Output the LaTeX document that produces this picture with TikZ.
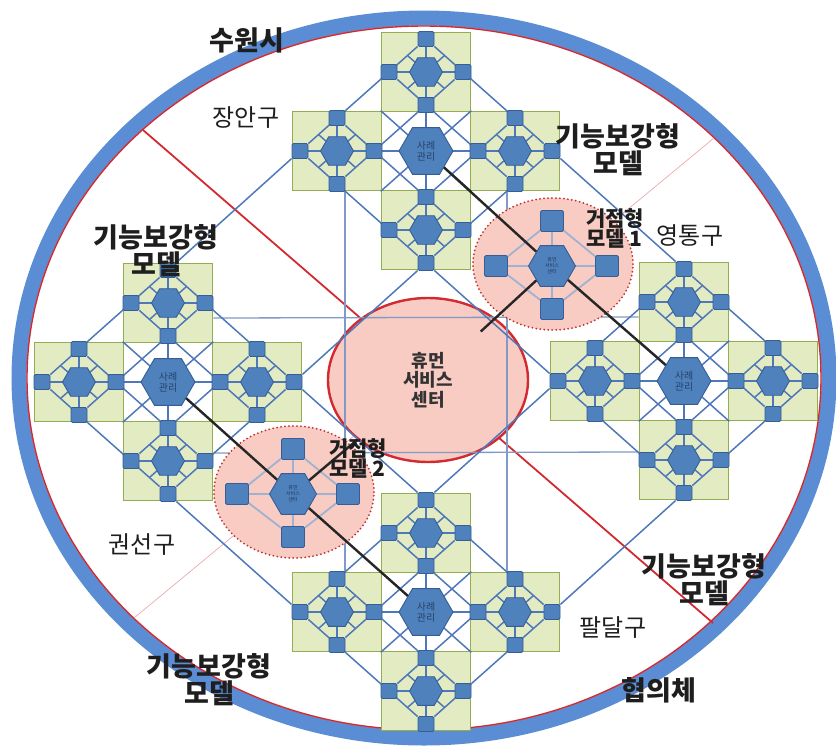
\documentclass[tikz,border=0pt]{standalone}
\usepackage{fontspec}
\setmainfont{Noto Sans CJK KR}
\usetikzlibrary{
  shapes.geometric, % 육각형, 타원 노드
  calc              % 좌표 계산
}
\definecolor{ringblue}{HTML}{5A8DD3}
\definecolor{ringred}{HTML}{D22A30}
\definecolor{cellfill}{HTML}{E3EBC2}
\definecolor{celledge}{HTML}{94AD50}
\definecolor{nodeblue}{HTML}{4F81BD}
\definecolor{nodeedge}{HTML}{365D95}
\definecolor{linkblue}{HTML}{4F78BA}
\definecolor{gridblue}{HTML}{8099C6}
\definecolor{hubpink}{HTML}{F8CBC3}
\definecolor{hubdot}{HTML}{C0302F}
\definecolor{hubline}{HTML}{9FB2D2}
\definecolor{textdark}{HTML}{1E1E1E}

\pgfdeclarelayer{back}
\pgfdeclarelayer{cells}
\pgfdeclarelayer{links}
\pgfdeclarelayer{hubs}
\pgfdeclarelayer{front}
\pgfsetlayers{back,cells,links,hubs,main,front}

\tikzset{
  cellbox/.style={
    draw=celledge, fill=cellfill, line width=1.6pt,
    minimum width=89pt, minimum height=79pt, inner sep=0pt
  },
  centerbox/.style={cellbox, fill=white},
  sqnode/.style={
    draw=nodeedge, fill=nodeblue, line width=0.8pt, rounded corners=1.5pt,
    minimum width=16pt, minimum height=15pt, inner sep=0pt
  },
  cellhex/.style={
    regular polygon, regular polygon sides=6,
    draw=nodeedge, fill=nodeblue, line width=0.9pt,
    minimum size=33pt, inner sep=0pt
  },
  casehex/.style={
    cellhex, minimum size=54pt, align=center,
    font=\fontsize{10}{11}\selectfont, text=nodeedge!70!black
  },
  hubhex/.style={
    cellhex, minimum size=47pt, align=center,
    font=\fontsize{5}{6}\selectfont, text=nodeedge!60!black
  },
  hubsq/.style={sqnode, minimum width=23pt, minimum height=21pt},
  linkline/.style={draw=linkblue, line width=1.5pt},
  gridline/.style={draw=gridblue, line width=1.3pt},
  hubwire/.style={draw=hubline, line width=1.8pt},
  tieline/.style={draw=black!85, line width=2.4pt},
  hsc/.style={
    ellipse, draw=ringred, fill=hubpink, line width=2.4pt,
    minimum width=200pt, minimum height=164pt, align=center,
    font=\bfseries\fontsize{18}{19.5}\selectfont, text=black!80
  },
  hubring/.style={
    draw=hubdot, fill=hubpink, line width=2pt,
    dash pattern=on 0pt off 4pt, line cap=round
  },
  boldlabel/.style={
    font=\bfseries\fontsize{27}{27}\selectfont, text=textdark, align=center
  },
  hublabel/.style={
    font=\bfseries\fontsize{21}{20}\selectfont, text=textdark, align=left
  },
  district/.style={font=\fontsize{24}{24}\selectfont, text=textdark}
}

% 기능보강형 모델 한 묶음: #1 이름, (#2,#3) 가운데 칸
\newcommand{\modelcluster}[3]{%
  \begin{scope}[shift={(#2,#3)}]
    \begin{pgfonlayer}{cells}
      \node[centerbox] (#1-c-box) at (0,0) {};
      \foreach \d/\u/\v in {n/0/-79, s/0/79, w/-89/0, e/89/0}
        \node[cellbox] (#1-\d-box) at (\u,\v) {};
    \end{pgfonlayer}
    \node[casehex] (#1-h) at (0,0) {사례\\관리};
    \foreach \d/\u/\v in {n/0/-79, s/0/79, w/-89/0, e/89/0}{
      \node[cellhex] (#1-\d-h) at (\u,\v) {};
      \node[sqnode] (#1-\d-t) at (\u,\v-33) {};
      \node[sqnode] (#1-\d-b) at (\u,\v+33) {};
      \node[sqnode] (#1-\d-l) at (\u-37,\v) {};
      \node[sqnode] (#1-\d-r) at (\u+37,\v) {};
    }
  \end{scope}
  \begin{pgfonlayer}{links}
    % 칸마다 십자, 마름모 안쪽 대각선
    \foreach \d in {n,s,w,e}{
      \draw[linkline] (#1-\d-t) -- (#1-\d-b)  (#1-\d-l) -- (#1-\d-r);
      \draw[linkline] ($(#1-\d-t)!0.5!(#1-\d-l)$) -- (#1-\d-h)
                      ($(#1-\d-t)!0.5!(#1-\d-r)$) -- (#1-\d-h)
                      ($(#1-\d-b)!0.5!(#1-\d-l)$) -- (#1-\d-h)
                      ($(#1-\d-b)!0.5!(#1-\d-r)$) -- (#1-\d-h);
    }
    \draw[linkline] (#1-c-box.north west) -- (#1-c-box.south east)
                    (#1-c-box.north east) -- (#1-c-box.south west);
    % 마름모를 잇는 긴 대각선
    \draw[linkline] (#1-n-t) -- (#1-w-l)  (#1-n-r) -- (#1-w-b)
                    (#1-e-t) -- (#1-s-l)  (#1-e-r) -- (#1-s-b);
    \draw[linkline] (#1-n-t) -- (#1-e-r)  (#1-n-l) -- (#1-e-b)
                    (#1-w-t) -- (#1-s-r)  (#1-w-l) -- (#1-s-b);
    % 가운데 십자
    \draw[linkline] (#1-w-l) -- (#1-e-r)  (#1-n-t) -- (#1-s-b);
  \end{pgfonlayer}
}

\begin{document}
\begin{tikzpicture}[x=1pt, y=-1pt]
  \useasboundingbox (0,0) rectangle (836,748);

  % 바깥 테두리(수원시 협의체)와 구 경계선
  \begin{pgfonlayer}{back}
    \draw[ringblue, line width=15pt] (424,378) ellipse [x radius=405pt, y radius=360pt];
    \draw[ringred, line width=1.4pt] (424,378) ellipse [x radius=397pt, y radius=352pt];
    \coordinate (nw) at (143,130);
    \coordinate (se) at (713,623);
    \coordinate (ne) at (714,138);
    \coordinate (sw) at (134,618);
    \draw[ringred, line width=1.8pt] (nw) -- (se);
    \draw[ringred!40, line width=0.7pt] (ne) -- (sw);
    \node[hsc] (hsc) at (428,380) {휴먼\\서비스\\센터};
  \end{pgfonlayer}

  % 네 개의 기능보강형 모델
  \modelcluster{T}{426}{151}
  \modelcluster{L}{168}{382}
  \modelcluster{R}{684}{381}
  \modelcluster{B}{426}{612}

  % 가운데를 두르는 격자선
  \begin{pgfonlayer}{cells}
    \draw[gridline] ([xshift=8pt]T-w-box.south) -- ([xshift=8pt]B-w-box.north);
    \draw[gridline] ([xshift=-8pt]T-e-box.south) -- ([xshift=-8pt]B-e-box.north);
    \draw[gridline] ([yshift=-15pt]L-n-box.east) -- ([yshift=-15pt]R-n-box.west);
    \draw[gridline] ([yshift=8pt]L-s-box.east) -- ([yshift=8pt]R-s-box.west);
  \end{pgfonlayer}

  % 묶음 사이의 큰 마름모
  \begin{pgfonlayer}{links}
    \draw[linkline] (T-s-b) -- (L-e-r)  (L-e-r) -- (B-n-t)
                    (B-n-t) -- (R-w-l)  (R-w-l) -- (T-s-b);
    \draw[linkline] (T-w-l) -- (L-n-t)  (T-e-r) -- (R-n-t)
                    (B-w-l) -- (L-s-b)  (B-e-r) -- (R-s-b);
  \end{pgfonlayer}

  % 거점형 모델 1, 2
  \foreach \k/\x/\y in {H1/552/266, H2/293/494}{
    \node[hubhex] (\k-h) at (\x,\y) {휴먼\\서비스\\센터};
    \node[hubsq] (\k-t) at (\x,\y-45) {};
    \node[hubsq] (\k-b) at (\x,\y+43) {};
    \node[hubsq] (\k-l) at (\x-56,\y) {};
    \node[hubsq] (\k-r) at (\x+55,\y) {};
  }
  \begin{pgfonlayer}{hubs}
    \draw[hubring] (553,264) ellipse [x radius=80pt, y radius=66pt];
    \draw[hubring] (294,492) ellipse [x radius=80pt, y radius=66pt];
    \foreach \k in {H1,H2}{
      \draw[hubwire] (\k-t) -- (\k-b)  (\k-l) -- (\k-r);
      \draw[hubwire] (\k-t) -- (\k-r)  (\k-r) -- (\k-b)
                     (\k-b) -- (\k-l)  (\k-l) -- (\k-t);
    }
  \end{pgfonlayer}

  \begin{pgfonlayer}{front}
    % 거점과 사례관리, 센터를 잇는 선
    \draw[tieline] (T-h) -- (H1-h);
    \draw[tieline, shorten >=-20pt] (H1-h) -- (hsc);
    \draw[tieline] (H1-h) -- (R-h);
    \draw[tieline] (L-h) -- (H2-h);
    \draw[tieline] (H2-h) -- (hsc);
    \draw[tieline] (H2-h) -- (B-h);

    % 글자
    \node[boldlabel] (city) at (247,40) {수원시};
    \node[boldlabel] (council) at (659,690) {협의체};
    \node[district] (jangan) at (246,118) {장안구};
    \node[district] (yeongtong) at (690,236) {영통구};
    \node[district] (gwonseon) at (142,545) {권선구};
    \node[district] (paldal) at (613,628) {팔달구};
    \node[boldlabel] (m-nw) at (156,251) {기능보강형\\모델};
    \node[boldlabel] (m-ne) at (618,150) {기능보강형\\모델};
    \node[boldlabel] (m-se) at (704,580) {기능보강형\\모델};
    \node[boldlabel] (m-sw) at (209,680) {기능보강형\\모델};
    \node[hublabel] (hub1-lab) at (615,228) {거점형\\모델 1};
    \node[hublabel] (hub2-lab) at (358,458) {거점형\\모델 2};
  \end{pgfonlayer}
\end{tikzpicture}
\end{document}
